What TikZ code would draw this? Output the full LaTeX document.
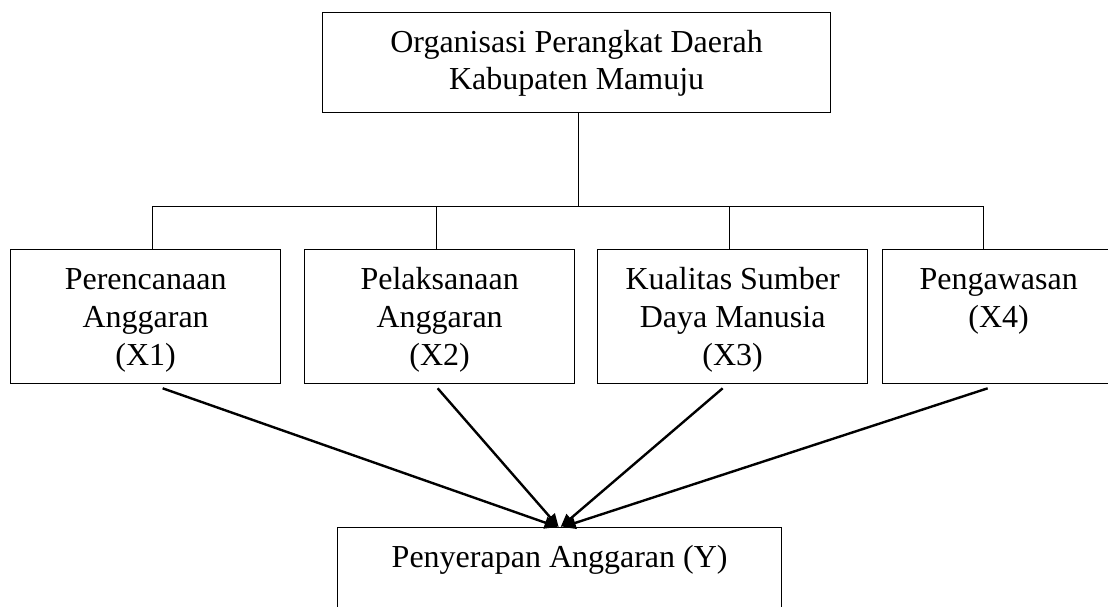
\documentclass[tikz,border=0pt]{standalone}
\usepackage{fontspec}
\setmainfont{Liberation Serif}
\usetikzlibrary{arrows.meta}
\newcommand\bxt[4]{\parbox[c][#2][t]{#1}{\centering\fontsize{16}{#3}\selectfont\rule{0pt}{20pt}#4\par}}
\begin{document}
\begin{tikzpicture}[x=0.5pt,y=-0.5pt,
  box/.style={draw, line width=0.65pt, inner sep=0pt, anchor=north west},
  link/.style={line width=0.45pt},
  arr/.style={line width=1.2pt, -{Triangle[length=6.5pt,width=6pt]}}]
\useasboundingbox (0,0) rectangle (1108,606);
\clip (0,0) rectangle (1108,606);
% boxes
\node[box] (top) at (322,12) {\bxt{254pt}{50pt}{18.5pt}{Organisasi Perangkat Daerah\\Kabupaten Mamuju}};
\node[box] (x1) at (10,249) {\bxt{135pt}{67pt}{19pt}{Perencanaan\\Anggaran\\(X1)}};
\node[box] (x2) at (304,249) {\bxt{135pt}{67pt}{19pt}{Pelaksanaan\\Anggaran\\(X2)}};
\node[box] (x3) at (597,249) {\bxt{135pt}{67pt}{19pt}{Kualitas Sumber\\Daya Manusia\\(X3)}};
\node[box] (x4) at (882,249) {\bxt{116pt}{67pt}{19pt}{Pengawasan\\(X4)}};
\node[box] (y) at (337,527) {\bxt{222pt}{50pt}{19pt}{Penyerapan Anggaran (Y)}};
% tree connectors
\coordinate (tv) at (578,207);
\coordinate (hl) at (152,206);
\coordinate (h2) at (436,206);
\coordinate (h3) at (729,206);
\coordinate (hr) at (983,206);
\draw[link] (tv |- top.south) -- (tv);
\draw[link] (hl) -- (hr);
\draw[link] (hl) -- (hl |- x1.north);
\draw[link] (h2) -- (h2 |- x2.north);
\draw[link] (h3) -- (h3 |- x3.north);
\draw[link] (hr) -- (hr |- x4.north);
% arrows
\draw[arr] ([xshift=8.5pt,yshift=-2pt]x1.south) -- ([xshift=-1pt]y.north);
\draw[arr] ([xshift=-1pt,yshift=-2pt]x2.south) -- ([xshift=-0.5pt]y.north);
\draw[arr] ([xshift=-5pt,yshift=-2pt]x3.south) -- ([xshift=0.5pt]y.north);
\draw[arr] ([xshift=-5.5pt,yshift=-2pt]x4.south) -- ([xshift=1.5pt]y.north);
\end{tikzpicture}
\end{document}
